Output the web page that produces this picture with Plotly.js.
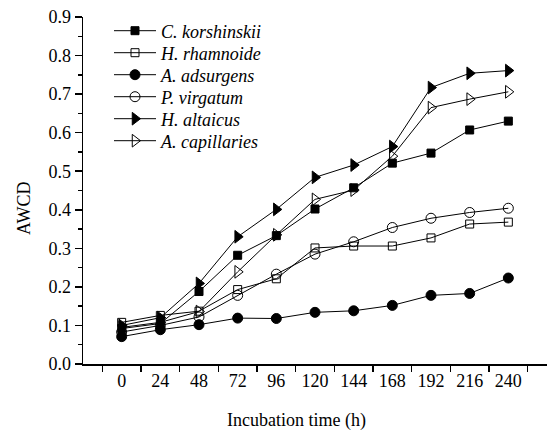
<!DOCTYPE html>
<html>
<head>
<meta charset="utf-8">
<script src="https://cdn.plot.ly/plotly-3.0.1.min.js"></script>
<style>html,body{margin:0;padding:0;background:#fff;}#chart{width:547px;height:432px;}</style>
</head>
<body>
<div id="chart"></div>
<script>
const times = [0, 24, 48, 72, 96, 120, 144, 168, 192, 216, 240];
const seriesNames = ["C. korshinskii", "H. rhamnoide", "A. adsurgens", "P. virgatum", "H. altaicus", "A. capillaries"];
const cKorshinskii = [0.092, 0.105, 0.188, 0.282, 0.333, 0.402, 0.457, 0.521, 0.547, 0.607, 0.630];
const hRhamnoide = [0.108, 0.126, 0.137, 0.193, 0.221, 0.301, 0.306, 0.306, 0.327, 0.363, 0.368];
const aAdsurgens = [0.071, 0.089, 0.102, 0.119, 0.118, 0.134, 0.138, 0.152, 0.178, 0.183, 0.223];
const pVirgatum = [0.083, 0.100, 0.122, 0.178, 0.233, 0.285, 0.317, 0.354, 0.378, 0.393, 0.404];
const hAltaicus = [0.100, 0.120, 0.209, 0.330, 0.401, 0.484, 0.516, 0.564, 0.717, 0.754, 0.761];
const aCapillaries = [0.095, 0.108, 0.136, 0.239, 0.335, 0.427, 0.451, 0.539, 0.665, 0.687, 0.706];
const xTickLabels = ["0", "24", "48", "72", "96", "120", "144", "168", "192", "216", "240"];

const seriesValues = [cKorshinskii, hRhamnoide, aAdsurgens, pVirgatum, hAltaicus, aCapillaries];
const symbols = ["square", "square-open", "circle", "circle-open", "triangle-right", "triangle-right-open"];
const sizes = [8, 8, 10, 10, 11, 11];

const font = "'Liberation Serif', 'DejaVu Serif', serif";
const legendIds = ["legend", "legend2", "legend3", "legend4", "legend5", "legend6"];
const traces = seriesValues.map((vals, i) => ({
  x: times,
  y: vals,
  name: seriesNames[i],
  legend: legendIds[i],
  type: "scatter",
  mode: "lines+markers",
  line: {color: "#000", width: 1},
  marker: {symbol: symbols[i], size: sizes[i], color: "#000", line: {color: "#000", width: 1}}
}));

// plot area: x 83..547 (464 px), y 17..364 (347 px)
const layout = {
  width: 547, height: 432,
  margin: {l: 83, r: 0, t: 17, b: 68, pad: 0},
  paper_bgcolor: "#fff", plot_bgcolor: "#fff",
  font: {family: font, size: 18, color: "#000"},
  showlegend: true,
  xaxis: {
    range: [-24, 264], showgrid: false, zeroline: false,
    showline: true, linecolor: "#000", linewidth: 1.5,
    tickvals: times, ticktext: xTickLabels, ticks: "", ticklen: 0,
    tickfont: {family: font, size: 18, color: "#000"},
    minor: {tick0: -12, dtick: 24, ticks: "outside", ticklen: 6, tickcolor: "#000", tickwidth: 1.5, showgrid: false},
    fixedrange: true
  },
  yaxis: {
    range: [0, 0.9], showgrid: false, zeroline: false,
    showline: true, linecolor: "#000", linewidth: 1.5,
    dtick: 0.1, tick0: 0, tickformat: ".1f",
    ticks: "outside", ticklen: 7, tickwidth: 1.5, tickcolor: "#000",
    tickfont: {family: font, size: 18, color: "#000"},
    minor: {dtick: 0.05, ticks: "outside", ticklen: 4, tickcolor: "#000", tickwidth: 1.5, showgrid: false},
    fixedrange: true
  },
  annotations: [
    {text: "Incubation time (h)", xref: "paper", yref: "paper", x: (296 - 83) / 464, y: -(420 - 364) / 347, xanchor: "center", yanchor: "middle", showarrow: false, font: {family: font, size: 18, color: "#000"}},
    {text: "AWCD", xref: "paper", yref: "paper", x: -(83 - 24) / 464, y: (364 - 208) / 347, xanchor: "center", yanchor: "middle", textangle: -90, showarrow: false, font: {family: font, size: 18, color: "#000"}}
  ]
};
const legendRowY = [31, 53, 75, 97, 119, 141];
legendIds.forEach((id, i) => {
  layout[id] = {
    x: (109 - 83) / 464, y: (364 - legendRowY[i]) / 347, xanchor: "left", yanchor: "middle",
    bgcolor: "rgba(0,0,0,0)", borderwidth: 0,
    font: {family: font, size: 18, color: "#000", style: "italic"},
    itemwidth: 42
  };
});

Plotly.newPlot("chart", traces, layout, {staticPlot: true, displayModeBar: false});
</script>
</body>
</html>
